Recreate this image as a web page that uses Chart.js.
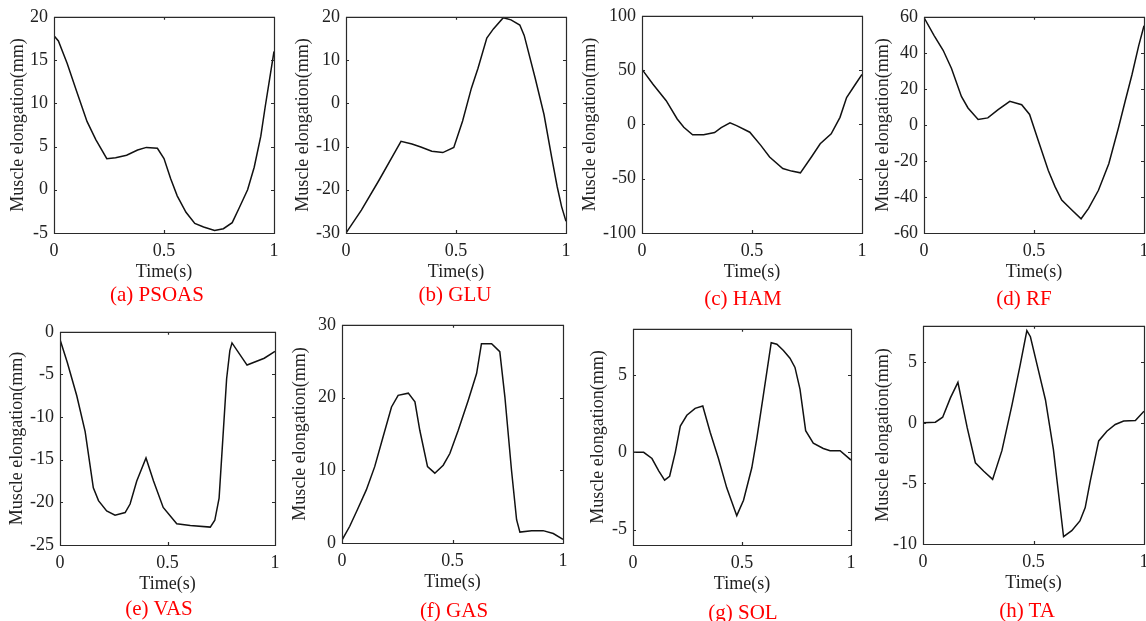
<!DOCTYPE html>
<html>
<head>
<meta charset="utf-8">
<title>Muscle elongation</title>
<script src="https://cdn.jsdelivr.net/npm/chart.js"></script>
<style>
  body { margin: 0; background: #fff; width: 1146px; height: 621px; overflow: hidden; position: relative; }
  canvas { position: absolute; }
  .cap { position: absolute; color: #f00; font: 21px "Liberation Serif", "Times New Roman", serif;
         transform: translate(-50%, -50%); white-space: nowrap; line-height: 1; }
</style>
</head>
<body>
<script>
// (a) PSOAS
const timeA = [0, 0.02, 0.06, 0.10, 0.15, 0.19, 0.24, 0.28, 0.33, 0.38, 0.42, 0.47, 0.50, 0.53, 0.56, 0.60, 0.64, 0.68, 0.73, 0.77, 0.81, 0.84, 0.88, 0.91, 0.94, 0.96, 0.98, 1.0];
const elongA = [17.8, 17.2, 14.6, 11.6, 7.9, 5.8, 3.6, 3.7, 4.0, 4.6, 4.9, 4.8, 3.6, 1.3, -0.7, -2.6, -3.9, -4.3, -4.7, -4.5, -3.8, -2.2, 0.0, 2.6, 6.2, 9.6, 12.8, 16.0];
// (b) GLU
const timeB = [0, 0.07, 0.15, 0.23, 0.25, 0.30, 0.34, 0.39, 0.44, 0.49, 0.53, 0.57, 0.60, 0.64, 0.67, 0.715, 0.75, 0.79, 0.81, 0.86, 0.90, 0.935, 0.96, 0.98, 1.0];
const elongB = [-30, -24.7, -17.8, -10.6, -8.8, -9.4, -10.1, -11.1, -11.4, -10.2, -4.1, 3.5, 8.1, 15.1, 17.2, 19.8, 19.3, 18.1, 15.7, 5.8, -2.6, -12.5, -19.3, -23.9, -27.3];
// (c) HAM
const timeC = [0, 0.05, 0.11, 0.16, 0.19, 0.23, 0.28, 0.33, 0.36, 0.40, 0.43, 0.49, 0.54, 0.58, 0.64, 0.68, 0.72, 0.77, 0.81, 0.86, 0.90, 0.93, 0.97, 1.0];
const elongC = [50.7, 37, 21.8, 5, -2.6, -9.6, -9.6, -7.5, -3.0, 1.4, -1.1, -7.2, -19.3, -30, -40.6, -43, -44.6, -30, -17.8, -8.7, 6.5, 24.8, 37, 46];
// (d) RF
const timeD = [0, 0.046, 0.087, 0.125, 0.17, 0.20, 0.246, 0.29, 0.337, 0.39, 0.444, 0.48, 0.52, 0.565, 0.596, 0.626, 0.672, 0.714, 0.748, 0.793, 0.84, 0.884, 0.914, 0.945, 0.976, 1.0];
const elongD = [59.6, 49.6, 41.4, 31.3, 15.8, 9.4, 3, 3.9, 8.5, 13.1, 11.2, 5.8, -8.9, -25.3, -34.4, -41.7, -47.2, -52.1, -46.3, -36.3, -21.6, -1.6, 13, 27.7, 44, 55];
// (e) VAS
const timeE = [0, 0.034, 0.078, 0.117, 0.155, 0.179, 0.217, 0.256, 0.303, 0.326, 0.357, 0.40, 0.435, 0.48, 0.543, 0.606, 0.699, 0.72, 0.74, 0.775, 0.79, 0.80, 0.87, 0.95, 1.0];
const elongE = [-0.9, -3.6, -7.5, -11.7, -18.3, -19.8, -21, -21.5, -21.2, -20.2, -17.5, -14.8, -17.5, -20.6, -22.5, -22.7, -22.9, -22.1, -19.5, -5.5, -2.2, -1.3, -3.9, -3.1, -2.3];
// (f) GAS
const timeF = [0, 0.035, 0.07, 0.11, 0.148, 0.186, 0.224, 0.254, 0.30, 0.33, 0.352, 0.387, 0.42, 0.458, 0.488, 0.526, 0.571, 0.609, 0.631, 0.677, 0.714, 0.737, 0.767, 0.79, 0.805, 0.858, 0.91, 0.956, 1.0];
const elongF = [0.4, 2.3, 4.6, 7.3, 10.5, 14.6, 18.7, 20.3, 20.6, 19.4, 15.5, 10.5, 9.6, 10.7, 12.3, 15.5, 19.6, 23.3, 27.4, 27.4, 26.3, 20.1, 10, 3.2, 1.5, 1.7, 1.7, 1.3, 0.5];
// (g) SOL
const timeG = [0, 0.049, 0.087, 0.118, 0.145, 0.168, 0.194, 0.217, 0.247, 0.285, 0.32, 0.354, 0.392, 0.43, 0.476, 0.507, 0.545, 0.568, 0.598, 0.634, 0.66, 0.69, 0.72, 0.743, 0.766, 0.792, 0.827, 0.873, 0.904, 0.95, 1.0];
const elongG = [0, 0, -0.4, -1.2, -1.8, -1.55, 0, 1.7, 2.4, 2.85, 3.0, 1.3, -0.4, -2.3, -4.1, -3.1, -1.0, 0.9, 3.7, 7.1, 7.0, 6.6, 6.1, 5.5, 4.1, 1.4, 0.6, 0.25, 0.1, 0.1, -0.5];
// (h) TA
const timeH = [0, 0.056, 0.089, 0.124, 0.158, 0.20, 0.237, 0.275, 0.315, 0.357, 0.403, 0.44, 0.47, 0.486, 0.516, 0.554, 0.59, 0.636, 0.673, 0.71, 0.734, 0.757, 0.795, 0.832, 0.87, 0.908, 0.961, 1.0];
const elongH = [0, 0.05, 0.46, 2.05, 3.33, -0.4, -3.3, -4.0, -4.67, -2.3, 1.5, 4.8, 7.6, 7.1, 4.8, 1.9, -2.2, -9.4, -8.9, -8.1, -7.0, -4.8, -1.5, -0.7, -0.14, 0.14, 0.19, 0.96];

const captions = ['(a) PSOAS', '(b) GLU', '(c) HAM', '(d) RF', '(e) VAS', '(f) GAS', '(g) SOL', '(h) TA'];
const times = [timeA, timeB, timeC, timeD, timeE, timeF, timeG, timeH];
const elongs = [elongA, elongB, elongC, elongD, elongE, elongF, elongG, elongH];
const yMins = [-5, -30, -100, -60, -25, 0, -6, -10];
const yMaxs = [20, 20, 100, 60, 0, 30, 8, 8];
const ySteps = [5, 10, 50, 20, 5, 10, 5, 5];
const xTicks = [0, 0.5, 1];

// plot box: left, top, right, bottom, y-axis width, caption x, caption y
const boxes = [
  [54, 14, 274, 233, 47, 157, 294],
  [346, 14, 566, 233, 54, 455, 294],
  [642, 13, 862, 233, 63, 743, 298],
  [924, 14, 1144, 233, 52, 1024, 298],
  [60, 329, 275, 545, 54, 159, 608],
  [342, 322, 563, 543, 53, 454, 610],
  [633, 326, 851, 545, 46, 743, 612],
  [923, 323, 1144, 544, 51, 1027, 610]
];

const PAD = 14, XH = 50;
const serif = '"Liberation Serif", "Times New Roman", serif';
const tickFont = { family: serif, size: 18, lineHeight: 1.2 };

// matlab-like box with inward ticks
const boxTicks = {
  id: 'boxTicks',
  afterDraw(chart) {
    const { ctx, chartArea: a, scales } = chart;
    ctx.save();
    ctx.strokeStyle = '#2a2a2a';
    ctx.lineWidth = 1.2;
    ctx.beginPath();
    ctx.rect(a.left + 0.5, a.top + 0.5, a.right - a.left, a.bottom - a.top);
    scales.x.ticks.forEach(t => {
      const px = Math.round(scales.x.getPixelForValue(t.value)) + 0.5;
      ctx.moveTo(px, a.bottom); ctx.lineTo(px, a.bottom - 3);
      ctx.moveTo(px, a.top); ctx.lineTo(px, a.top + 3);
    });
    scales.y.ticks.forEach(t => {
      const py = Math.round(scales.y.getPixelForValue(t.value)) + 0.5;
      ctx.moveTo(a.left, py); ctx.lineTo(a.left + 3, py);
      ctx.moveTo(a.right, py); ctx.lineTo(a.right - 3, py);
    });
    ctx.stroke();
    ctx.restore();
  }
};

const drawPanel = (i) => {
  const [l, t, r, b, yw, cx, cy] = boxes[i];
  const cv = document.createElement('canvas');
  cv.width = yw + (r - l) + PAD;
  cv.height = PAD + (b - t) + XH;
  cv.style.left = (l - yw) + 'px';
  cv.style.top = (t - PAD) + 'px';
  document.body.appendChild(cv);

  const pts = times[i].map((x, k) => ({ x: x, y: elongs[i][k] }));

  new Chart(cv.getContext('2d'), {
    type: 'line',
    data: { datasets: [{ data: pts, borderColor: '#111', borderWidth: 1.5, pointRadius: 0, tension: 0, fill: false }] },
    options: {
      responsive: false,
      animation: false,
      layout: { padding: { top: PAD, right: PAD, left: 0, bottom: 0 } },
      plugins: { legend: { display: false }, tooltip: { enabled: false } },
      scales: {
        x: {
          type: 'linear', min: 0, max: 1,
          grid: { display: false, drawTicks: false }, border: { display: false },
          afterBuildTicks: s => { s.ticks = xTicks.map(v => ({ value: v })); },
          ticks: { padding: 7, color: '#222', font: tickFont, maxRotation: 0, callback: v => String(v) },
          title: { display: true, text: 'Time(s)', color: '#222', font: tickFont, padding: 0 },
          afterFit: s => { s.height = XH; }
        },
        y: {
          min: yMins[i], max: yMaxs[i],
          grid: { display: false, drawTicks: false }, border: { display: false },
          ticks: { stepSize: ySteps[i], includeBounds: false, padding: 6, color: '#222', font: tickFont },
          title: { display: true, text: 'Muscle elongation(mm)', color: '#222', font: tickFont, padding: 0 },
          afterFit: s => { s.width = yw; }
        }
      }
    },
    plugins: [boxTicks]
  });

  const cap = document.createElement('div');
  cap.className = 'cap';
  cap.textContent = captions[i];
  cap.style.left = cx + 'px';
  cap.style.top = cy + 'px';
  document.body.appendChild(cap);
};

for (let i = 0; i < boxes.length; i++) drawPanel(i);
</script>
</body>
</html>
